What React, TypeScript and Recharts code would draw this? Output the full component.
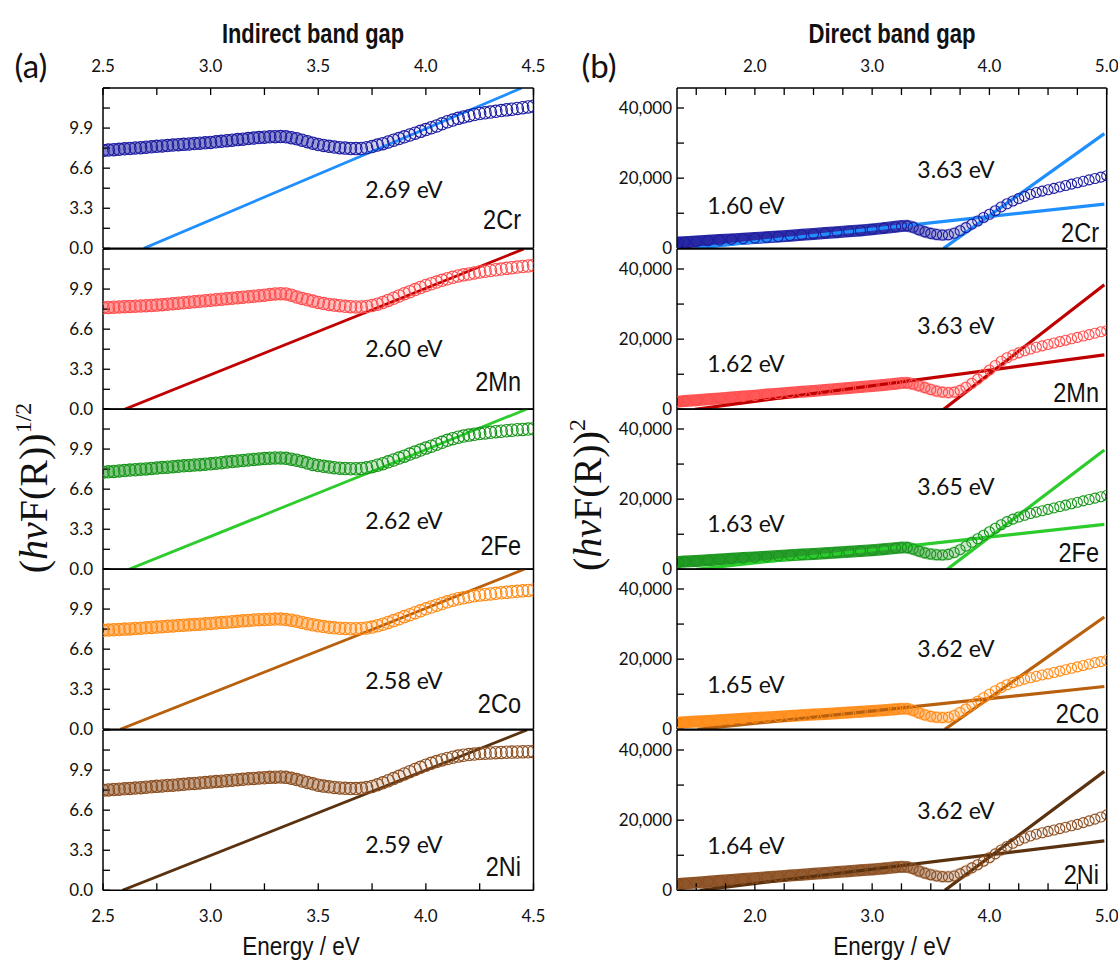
import React from "react";
import { ComposedChart, Line, Scatter, XAxis, YAxis } from "recharts";

const indirectEnergy = [
  2.5, 2.525, 2.55, 2.575, 2.6, 2.625, 2.65, 2.675, 2.7, 2.725, 2.75, 2.775, 2.8, 2.825, 2.85, 2.875, 2.9, 2.925, 2.95, 2.975,
  3.0, 3.025, 3.05, 3.075, 3.1, 3.125, 3.15, 3.175, 3.2, 3.225, 3.25, 3.275, 3.3, 3.325, 3.35, 3.375, 3.4, 3.425, 3.45, 3.475,
  3.5, 3.525, 3.55, 3.575, 3.6, 3.625, 3.65, 3.675, 3.7, 3.725, 3.75, 3.775, 3.8, 3.825, 3.85, 3.875, 3.9, 3.925, 3.95, 3.975,
  4.0, 4.025, 4.05, 4.075, 4.1, 4.125, 4.15, 4.175, 4.2, 4.225, 4.25, 4.275, 4.3, 4.325, 4.35, 4.375, 4.4, 4.425, 4.45, 4.475,
  4.5,
];
const directEnergy = [
  1.35, 1.4, 1.5, 1.6, 1.7, 1.8, 1.9, 2.0, 2.1, 2.2, 2.3, 2.4, 2.5, 2.6, 2.7, 2.8, 2.9, 3.0, 3.1, 3.2,
  3.25, 3.3, 3.35, 3.4, 3.45, 3.5, 3.55, 3.6, 3.65, 3.7, 3.75, 3.8, 3.85, 3.9, 3.95, 4.0, 4.05, 4.1, 4.15, 4.2,
  4.25, 4.3, 4.35, 4.4, 4.45, 4.5, 4.55, 4.6, 4.65, 4.7, 4.75, 4.8, 4.85, 4.9, 4.95, 5.0,
];

const samples = ["2Cr", "2Mn", "2Fe", "2Co", "2Ni"];

// (hv F(R))^1/2
const indirectCr = [
  8.06, 8.09, 8.12, 8.15, 8.19, 8.22, 8.26, 8.29, 8.33, 8.36, 8.4, 8.43, 8.46, 8.5, 8.53, 8.56, 8.59, 8.63, 8.66, 8.69,
  8.72, 8.77, 8.81, 8.86, 8.9, 8.95, 8.99, 9.04, 9.08, 9.12, 9.15, 9.18, 9.19, 9.2, 9.18, 9.11, 9.02, 8.9, 8.78, 8.66,
  8.55, 8.47, 8.4, 8.34, 8.29, 8.25, 8.22, 8.21, 8.22, 8.28, 8.38, 8.5, 8.62, 8.76, 8.9, 9.04, 9.18, 9.33, 9.48, 9.63,
  9.78, 9.93, 10.08, 10.25, 10.42, 10.56, 10.7, 10.82, 10.92, 11.02, 11.1, 11.16, 11.22, 11.28, 11.34, 11.4, 11.45, 11.52, 11.58, 11.64,
  11.7,
];
const indirectMn = [
  8.37, 8.39, 8.41, 8.43, 8.45, 8.47, 8.49, 8.51, 8.53, 8.55, 8.58, 8.62, 8.66, 8.7, 8.74, 8.78, 8.82, 8.86, 8.9, 8.94,
  8.98, 9.03, 9.07, 9.11, 9.15, 9.19, 9.23, 9.27, 9.31, 9.35, 9.4, 9.46, 9.5, 9.52, 9.5, 9.4, 9.25, 9.13, 9.02, 8.91,
  8.8, 8.71, 8.64, 8.58, 8.53, 8.48, 8.45, 8.43, 8.43, 8.47, 8.55, 8.66, 8.8, 8.97, 9.15, 9.34, 9.52, 9.69, 9.86, 10.03,
  10.2, 10.34, 10.48, 10.62, 10.75, 10.87, 10.98, 11.07, 11.15, 11.23, 11.3, 11.37, 11.43, 11.49, 11.55, 11.61, 11.66, 11.71, 11.76, 11.81,
  11.86,
];
const indirectFe = [
  8.0, 8.03, 8.06, 8.1, 8.13, 8.17, 8.2, 8.24, 8.27, 8.31, 8.34, 8.38, 8.41, 8.45, 8.48, 8.52, 8.55, 8.59, 8.62, 8.66,
  8.69, 8.74, 8.78, 8.83, 8.87, 8.92, 8.96, 9.01, 9.05, 9.09, 9.12, 9.15, 9.17, 9.17, 9.14, 9.07, 8.98, 8.87, 8.75, 8.64,
  8.55, 8.48, 8.42, 8.37, 8.33, 8.3, 8.28, 8.28, 8.3, 8.36, 8.45, 8.57, 8.7, 8.85, 9.0, 9.16, 9.32, 9.49, 9.65, 9.82,
  9.98, 10.14, 10.3, 10.46, 10.62, 10.76, 10.88, 10.97, 11.05, 11.12, 11.18, 11.23, 11.28, 11.33, 11.37, 11.41, 11.45, 11.49, 11.52, 11.55,
  11.58,
];
const indirectCo = [
  8.15, 8.17, 8.2, 8.22, 8.25, 8.27, 8.3, 8.33, 8.36, 8.39, 8.42, 8.45, 8.48, 8.51, 8.54, 8.57, 8.6, 8.63, 8.66, 8.69,
  8.72, 8.75, 8.79, 8.82, 8.86, 8.89, 8.93, 8.96, 9.0, 9.03, 9.05, 9.07, 9.08, 9.08, 9.04, 8.98, 8.9, 8.8, 8.7, 8.61,
  8.52, 8.46, 8.4, 8.36, 8.32, 8.3, 8.28, 8.28, 8.3, 8.35, 8.42, 8.53, 8.65, 8.8, 8.95, 9.11, 9.28, 9.44, 9.6, 9.76,
  9.92, 10.07, 10.22, 10.36, 10.5, 10.63, 10.75, 10.84, 10.92, 10.99, 11.05, 11.1, 11.15, 11.2, 11.24, 11.28, 11.32, 11.36, 11.4, 11.44,
  11.47,
];
const indirectNi = [
  8.24, 8.27, 8.3, 8.33, 8.36, 8.39, 8.42, 8.45, 8.49, 8.52, 8.56, 8.59, 8.63, 8.66, 8.7, 8.73, 8.77, 8.8, 8.84, 8.87,
  8.91, 8.95, 8.99, 9.03, 9.07, 9.11, 9.14, 9.18, 9.21, 9.24, 9.27, 9.3, 9.32, 9.33, 9.3, 9.22, 9.12, 9.0, 8.88, 8.77,
  8.66, 8.58, 8.52, 8.47, 8.43, 8.4, 8.38, 8.38, 8.4, 8.46, 8.55, 8.69, 8.85, 9.02, 9.2, 9.39, 9.58, 9.77, 9.95, 10.13,
  10.3, 10.46, 10.6, 10.74, 10.86, 10.96, 11.05, 11.12, 11.18, 11.22, 11.26, 11.29, 11.31, 11.33, 11.35, 11.37, 11.38, 11.39, 11.4, 11.41,
  11.42,
];

// (hv F(R))^2
const directCr = [
  1650, 1750, 1950, 2150, 2350, 2550, 2750, 2950, 3150, 3350, 3600, 3850, 4100, 4350, 4600, 4850, 5100, 5400, 5750, 6150,
  6350, 6400, 6000, 5300, 4700, 4250, 3950, 3800, 3850, 4300, 5000, 5900, 6900, 7800, 8800, 9700, 10700, 11800, 12700, 13500,
  14200, 14800, 15400, 15900, 16300, 16700, 17100, 17500, 17900, 18300, 18700, 19100, 19500, 19900, 20300, 20700,
];
const directMn = [
  2200, 2350, 2600, 2850, 3100, 3400, 3650, 3900, 4200, 4450, 4700, 5000, 5250, 5550, 5800, 6100, 6350, 6650, 6950, 7300,
  7500, 7550, 7200, 6700, 6200, 5650, 5200, 4900, 4750, 4900, 5400, 6300, 7400, 8600, 9900, 11200, 12500, 13700, 14700, 15500,
  16100, 16700, 17200, 17700, 18100, 18500, 18900, 19300, 19700, 20100, 20500, 20900, 21300, 21700, 22100, 22400,
];
const directFe = [
  2100, 2200, 2400, 2600, 2800, 3000, 3200, 3400, 3600, 3800, 4000, 4200, 4400, 4600, 4800, 5000, 5200, 5450, 5750, 6050,
  6200, 6200, 5800, 5200, 4700, 4350, 4150, 4100, 4250, 4800, 5600, 6600, 7700, 8700, 9700, 10700, 11700, 12700, 13600, 14300,
  14900, 15400, 15900, 16300, 16700, 17100, 17500, 17900, 18300, 18700, 19100, 19500, 19900, 20300, 20700, 21100,
];
const directCo = [
  1900, 2000, 2200, 2400, 2600, 2800, 3000, 3200, 3400, 3600, 3800, 4000, 4200, 4400, 4600, 4800, 5000, 5200, 5450, 5700,
  5850, 5850, 5400, 4700, 4100, 3700, 3450, 3350, 3450, 3950, 4800, 5800, 6900, 8000, 9000, 10000, 11000, 11900, 12700, 13300,
  13800, 14300, 14700, 15100, 15500, 15800, 16200, 16600, 17000, 17400, 17800, 18200, 18600, 19000, 19300, 19600,
];
const directNi = [
  1800, 1950, 2200, 2450, 2700, 2950, 3200, 3450, 3700, 3950, 4200, 4450, 4700, 4950, 5200, 5450, 5700, 5950, 6250, 6550,
  6700, 6650, 6200, 5500, 4900, 4450, 4100, 3900, 3850, 4100, 4700, 5500, 6400, 7300, 8300, 9300, 10400, 11500, 12500, 13400,
  14200, 14900, 15500, 16000, 16400, 16800, 17200, 17600, 18000, 18400, 18800, 19300, 19800, 20300, 20900, 21500,
];

const indirectSeries = [indirectCr, indirectMn, indirectFe, indirectCo, indirectNi];
const directSeries = [directCr, directMn, directFe, directCo, directNi];

// linear fits (Tauc extrapolation), end points
const indirectGap = ["2.69 eV", "2.60 eV", "2.62 eV", "2.58 eV", "2.59 eV"];
const indirectFitX0 = [2.69, 2.6, 2.62, 2.58, 2.59];
const indirectFitX1 = [4.445, 4.455, 4.47, 4.46, 4.47];
const indirectFitY1 = [13.2, 13.2, 13.2, 13.2, 13.2];

const directLowGap = ["1.60 eV", "1.62 eV", "1.63 eV", "1.65 eV", "1.64 eV"];
const directHighGap = ["3.63 eV", "3.63 eV", "3.65 eV", "3.62 eV", "3.62 eV"];
const directLowX0 = [1.49, 1.49, 1.5, 1.51, 1.53];
const directLowY1 = [12600, 15500, 12800, 12200, 14100];
const directHighX0 = [3.61, 3.61, 3.64, 3.62, 3.62];
const directHighY1 = [32700, 35500, 34000, 32000, 33900];
const directFitX1 = 4.98;

// axes
const indirectXTicks = [2.5, 2.75, 3.0, 3.25, 3.5, 3.75, 4.0, 4.25, 4.5];
const indirectXLabels = [2.5, 3.0, 3.5, 4.0, 4.5];
const indirectYTicks = [0, 1.65, 3.3, 4.95, 6.6, 8.25, 9.9, 11.55, 13.2];
const indirectYLabels = [0, 3.3, 6.6, 9.9];
const directXTicks = [1.5, 1.75, 2.0, 2.25, 2.5, 2.75, 3.0, 3.25, 3.5, 3.75, 4.0, 4.25, 4.5, 4.75, 5.0];
const directXLabels = [2.0, 3.0, 4.0, 5.0];
const directYTicks = [0, 10000, 20000, 30000, 40000];
const directYLabels = [0, 20000, 40000];

const ringColors = ["#1c1ca0", "#ff4c4c", "#17951a", "#ff8a14", "#8a4d1f"];
const fitColors = ["#1f8fff", "#c00000", "#2ccc2c", "#b8600e", "#5a3210"];

const TOP = 88.3;
const PH = 160.34;
const AXH = 40;

const sans = "Lato, 'Open Sans', sans-serif";
const narrow = "'Liberation Sans', Arial, sans-serif";
const tickFont = { fontFamily: sans, fontSize: 17, fill: "#111" };
const axisStyle = { stroke: "#000", strokeWidth: 1.5 };
const tickStyle = { stroke: "#000", strokeWidth: 1.3 };

type Pt = { x: number; y: number };
const toPts = (xs: number[], ys: number[]): Pt[] => xs.map((x, k) => ({ x, y: ys[k] }));

type PanelSpec = {
  id: string;
  i: number;
  left: number;
  width: number;
  yW: number;
  rW: number;
  xDomain: [number, number];
  xTicks: number[];
  xFmt: (v: number) => string;
  yDomain: [number, number];
  yTicks: number[];
  yFmt: (v: number) => string;
  yMargin: number;
  curve: Pt[];
  fits: Pt[][];
  r: number;
  ringW: number;
  band: number;
  fitW: number;
  stops: [number, number][];
};

function Panel(p: PanelSpec) {
  const gid = `band-${p.id}-${p.i}`;
  const ring = ringColors[p.i];
  const first = p.i === 0;
  const last = p.i === 4;
  return (
    <div style={{ position: "absolute", left: p.left, top: TOP + p.i * PH - AXH }}>
      <ComposedChart width={p.width} height={PH + 2 * AXH} margin={{ top: 0, right: 0, bottom: 0, left: 0 }}>
        <defs>
          <linearGradient id={gid} x1="0" y1="0" x2="1" y2="0">
            {p.stops.map(([o, a]) => (
              <stop key={o} offset={o} stopColor={ring} stopOpacity={a} />
            ))}
          </linearGradient>
        </defs>
        <XAxis
          xAxisId="t"
          orientation="top"
          type="number"
          dataKey="x"
          height={AXH}
          domain={p.xDomain}
          allowDataOverflow
          ticks={p.xTicks}
          interval={0}
          tickSize={-7}
          tickMargin={23}
          tickFormatter={p.xFmt}
          tick={first ? tickFont : false}
          axisLine={axisStyle}
          tickLine={tickStyle}
        />
        <XAxis
          xAxisId="b"
          orientation="bottom"
          type="number"
          dataKey="x"
          height={AXH}
          domain={p.xDomain}
          allowDataOverflow
          ticks={p.xTicks}
          interval={0}
          tickSize={-7}
          tickMargin={27}
          tickFormatter={p.xFmt}
          tick={last ? tickFont : false}
          axisLine={axisStyle}
          tickLine={tickStyle}
        />
        <YAxis
          yAxisId="l"
          type="number"
          width={p.yW}
          domain={p.yDomain}
          allowDataOverflow
          ticks={p.yTicks}
          interval={0}
          tickSize={-7}
          tickMargin={p.yMargin}
          tickFormatter={p.yFmt}
          tick={tickFont}
          axisLine={axisStyle}
          tickLine={tickStyle}
        />
        <YAxis
          yAxisId="r"
          orientation="right"
          type="number"
          width={p.rW}
          domain={p.yDomain}
          allowDataOverflow
          ticks={p.yTicks}
          interval={0}
          tickSize={-7}
          tick={false}
          axisLine={axisStyle}
          tickLine={tickStyle}
        />
        {/* carrier for the top / right frame axes */}
        <Line
          xAxisId="t"
          yAxisId="r"
          data={p.curve}
          dataKey="y"
          stroke="none"
          dot={false}
          activeDot={false}
          isAnimationActive={false}
        />
        <Line
          xAxisId="b"
          yAxisId="l"
          data={p.curve}
          dataKey="y"
          type="linear"
          stroke={`url(#${gid})`}
          strokeWidth={p.band}
          strokeLinecap="round"
          dot={false}
          activeDot={false}
          isAnimationActive={false}
        />
        <Scatter
          xAxisId="b"
          yAxisId="l"
          data={p.curve}
          dataKey="y"
          isAnimationActive={false}
          shape={(s: any) => <circle cx={s.cx} cy={s.cy} r={p.r} fill="none" stroke={ring} strokeWidth={p.ringW} />}
        />
        {p.fits.map((f, k) => (
          <Line
            key={k}
            xAxisId="b"
            yAxisId="l"
            data={f}
            dataKey="y"
            type="linear"
            stroke={fitColors[p.i]}
            strokeWidth={p.fitW}
            dot={false}
            activeDot={false}
            isAnimationActive={false}
          />
        ))}
      </ComposedChart>
    </div>
  );
}

const fmtIn = (labels: number[]) => (v: number) => (labels.includes(v) ? v.toFixed(1) : "");

// condensed sans text (the original uses a narrow face)
function Narrow(props: { x: number; y: number; size: number; sx: number; anchor: string; bold?: boolean; children: string }) {
  return (
    <text
      transform={`translate(${props.x},${props.y}) scale(${props.sx},1)`}
      textAnchor={props.anchor}
      fontFamily={narrow}
      fontWeight={props.bold ? "bold" : "normal"}
      fontSize={props.size}
      fill="#111"
    >
      {props.children}
    </text>
  );
}

const indirectTextY = [190, 349, 521, 681, 845];
const indirectNameY = [219, 381, 545, 703, 866];
const directHighY = [170, 326, 487, 649, 811];
const directLowY = [206, 364, 524, 685, 846];
const directNameY = [232, 392, 552, 713, 874];

export default function App() {
  return (
    <div style={{ position: "absolute", left: 0, top: 0, width: 1118, height: 960, background: "#fff" }}>
      {samples.map((s, i) => (
        <Panel
          key={`in-${s}`}
          id="in"
          i={i}
          left={0}
          width={560}
          yW={103}
          rW={26.5}
          xDomain={[2.5, 4.5]}
          xTicks={indirectXTicks}
          xFmt={fmtIn(indirectXLabels)}
          yDomain={[0, 13.2]}
          yTicks={indirectYTicks}
          yFmt={fmtIn(indirectYLabels)}
          yMargin={17}
          curve={toPts(indirectEnergy, indirectSeries[i])}
          fits={[
            [
              { x: indirectFitX0[i], y: 0 },
              { x: indirectFitX1[i], y: indirectFitY1[i] },
            ],
          ]}
          r={6.2}
          ringW={1.1}
          band={12}
          fitW={2.8}
          stops={[
            [0, 0.55],
            [0.45, 0.5],
            [0.62, 0.22],
            [0.78, 0.05],
            [1, 0],
          ]}
        />
      ))}
      {samples.map((s, i) => (
        <Panel
          key={`dir-${s}`}
          id="dir"
          i={i}
          left={560}
          width={558}
          yW={117}
          rW={11.3}
          xDomain={[1.336, 5.0]}
          xTicks={directXTicks}
          xFmt={fmtIn(directXLabels)}
          yDomain={[0, 45700]}
          yTicks={directYTicks}
          yFmt={(v: number) => (directYLabels.includes(v) ? v.toLocaleString("en-US") : "")}
          yMargin={12}
          curve={toPts(directEnergy, directSeries[i])}
          fits={[
            [
              { x: directLowX0[i], y: 0 },
              { x: directFitX1, y: directLowY1[i] },
            ],
            [
              { x: directHighX0[i], y: 0 },
              { x: directFitX1, y: directHighY1[i] },
            ],
          ]}
          r={5}
          ringW={1.1}
          band={12}
          fitW={3.2}
          stops={[
            [0, 0.95],
            [0.5, 0.9],
            [0.58, 0.5],
            [0.7, 0.12],
            [1, 0],
          ]}
        />
      ))}
      <svg width={1118} height={960} style={{ position: "absolute", left: 0, top: 0, pointerEvents: "none" }}>
        <text x={31} y={78} textAnchor="middle" fontFamily={sans} fontSize={33} fill="#111">
          (a)
        </text>
        <text x={599} y={78} textAnchor="middle" fontFamily={sans} fontSize={33} fill="#111">
          (b)
        </text>
        <Narrow x={313} y={43} size={27} sx={0.81} anchor="middle" bold>
          Indirect band gap
        </Narrow>
        <Narrow x={892} y={43} size={27} sx={0.82} anchor="middle" bold>
          Direct band gap
        </Narrow>
        <Narrow x={301} y={955} size={25} sx={0.9} anchor="middle">
          Energy / eV
        </Narrow>
        <Narrow x={892} y={955} size={25} sx={0.9} anchor="middle">
          Energy / eV
        </Narrow>
        <text transform="translate(47,488) rotate(-90)" textAnchor="middle" fontFamily="'Liberation Serif', serif" fontSize={40} fill="#111">
          (<tspan fontStyle="italic">hν</tspan>F(R))
          <tspan fontSize={24} dy={-16}>
            1/2
          </tspan>
        </text>
        <text transform="translate(601,495) rotate(-90)" textAnchor="middle" fontFamily="'Liberation Serif', serif" fontSize={40} fill="#111">
          (<tspan fontStyle="italic">hν</tspan>F(R))
          <tspan fontSize={24} dy={-16}>
            2
          </tspan>
        </text>
        {samples.map((s, i) => (
          <g key={`lab-${s}`}>
            <text x={404} y={indirectTextY[i] + 8} textAnchor="middle" fontFamily={sans} fontSize={23} fill="#111">
              {indirectGap[i]}
            </text>
            <Narrow x={521} y={indirectNameY[i] + 10} size={28} sx={0.84} anchor="end">
              {s}
            </Narrow>
            <text x={956} y={directHighY[i] + 8} textAnchor="middle" fontFamily={sans} fontSize={23} fill="#111">
              {directHighGap[i]}
            </text>
            <text x={746} y={directLowY[i] + 8} textAnchor="middle" fontFamily={sans} fontSize={23} fill="#111">
              {directLowGap[i]}
            </text>
            <Narrow x={1099} y={directNameY[i] + 10} size={28} sx={0.84} anchor="end">
              {s}
            </Narrow>
          </g>
        ))}
      </svg>
    </div>
  );
}
